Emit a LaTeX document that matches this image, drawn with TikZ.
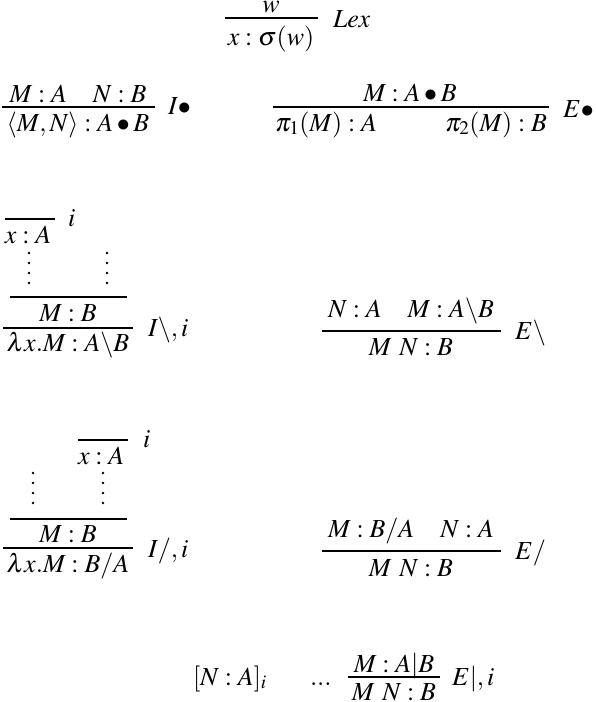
\documentclass[tikz,border=0pt]{standalone}
\usepackage{mathptmx}
\tikzset{
  f/.style={inner sep=0pt, outer sep=0pt, font=\fontsize{26}{30}\selectfont},
  rl/.style={line width=1.5pt},
  rlb/.style={line width=2.5pt},
  dt/.style={fill=black, circle, inner sep=0pt, minimum size=2.8pt}
}
\begin{document}
\begin{tikzpicture}[x=1pt,y=-1pt]
\useasboundingbox (0,0) rectangle (596,702);
% Lex
\node[f,anchor=base] (lexp) at (271,12) {$w$};
\coordinate (lexa) at (225,18); \coordinate (lexb) at (318,18);
\draw[rl] (lexa) -- (lexb);
\node[f,anchor=base] (lexc) at (271,45) {$x:\sigma(w)$};
\node[f,anchor=base west] (lexl) at (333,27) {$\mathit{Lex}$};
% I bullet
\node[f,anchor=base] (ip) at (78,102) {$M:A\quad N:B$};
\coordinate (ia) at (2,107); \coordinate (ib) at (155,107);
\draw[rl] (ia) -- (ib);
\node[f,anchor=base] (ic) at (78,131) {$\langle M,N\rangle:A\bullet B$};
\node[f,anchor=base west] (il) at (168,114) {$I\bullet$};
% E bullet
\node[f,anchor=base] (ep) at (410,101) {$M:A\bullet B$};
\coordinate (ea) at (273,107); \coordinate (eb) at (549,107);
\draw[rl] (ea) -- (eb);
\node[f,anchor=base west] (ec1) at (275,131) {$\pi_1(M):A$};
\node[f,anchor=base east] (ec2) at (547,131) {$\pi_2(M):B$};
\node[f,anchor=base west] (el) at (563,117) {$E\bullet$};
% I backslash
\coordinate (ha1) at (5,219); \coordinate (hb1) at (55,219);
\draw[rl] (ha1) -- (hb1);
\node[f,anchor=base west] (hx1) at (5,243) {$x:A$};
\node[f,anchor=base west] (hi1) at (68,226) {$i$};
\foreach \y [count=\k] in {253,263,273,283} {
  \node[dt] (da\k) at (29,\y) {};
  \node[dt] (db\k) at (107,\y) {};
}
\coordinate (ma1) at (10,297); \coordinate (mb1) at (127,297);
\draw[rl] (ma1) -- (mb1);
\node[f,anchor=base] (mp1) at (68,321) {$M:B$};
\coordinate (la1) at (3,328); \coordinate (lb1) at (133,328);
\draw[rl] (la1) -- (lb1);
\node[f,anchor=base] (lc1) at (68,351) {$\lambda x.M:A\backslash B$};
\node[f,anchor=base west] (ll1) at (148,336) {$I\backslash,i$};
% E backslash
\node[f,anchor=base] (bp) at (411,317) {$N:A\quad M:A\backslash B$};
\coordinate (ba) at (322,331); \coordinate (bb) at (501,331);
\draw[rl] (ba) -- (bb);
\node[f,anchor=base] (bc) at (411,355) {$M\ N:B$};
\node[f,anchor=base west] (bl) at (515,339) {$E\backslash$};
% I slash
\coordinate (ha2) at (78,440); \coordinate (hb2) at (128,440);
\draw[rl] (ha2) -- (hb2);
\node[f,anchor=base west] (hx2) at (78,464) {$x:A$};
\node[f,anchor=base west] (hi2) at (143,447) {$i$};
\foreach \y [count=\k] in {473,483,493,503} {
  \node[dt] (dc\k) at (33,\y) {};
  \node[dt] (dd\k) at (103,\y) {};
}
\coordinate (ma2) at (10,519); \coordinate (mb2) at (127,519);
\draw[rl] (ma2) -- (mb2);
\node[f,anchor=base] (mp2) at (68,542) {$M:B$};
\coordinate (la2) at (3,548); \coordinate (lb2) at (133,548);
\draw[rl] (la2) -- (lb2);
\node[f,anchor=base] (lc2) at (68,572) {$\lambda x.M:B/A$};
\node[f,anchor=base west] (ll2) at (148,557) {$I/,i$};
% E slash
\node[f,anchor=base] (sp) at (411,537) {$M:B/A\quad N:A$};
\coordinate (sa) at (322,551); \coordinate (sb) at (501,551);
\draw[rl] (sa) -- (sb);
\node[f,anchor=base] (sc) at (411,576) {$M\ N:B$};
\node[f,anchor=base west] (sl) at (515,559) {$E/$};
% E bar
\node[f,anchor=base west] (na) at (193,685) {$[N:A]_i$};
\node[f,anchor=base west] (nd) at (310,685) {$...$};
\node[f,anchor=base] (vp) at (394,672) {$M:A|B$};
\coordinate (va) at (348,677); \coordinate (vb) at (440,677);
\draw[rlb] (va) -- (vb);
\node[f,anchor=base] (vc) at (394,700) {$M\ N:B$};
\node[f,anchor=base west] (vl) at (452,685) {$E|,i$};
\end{tikzpicture}
\end{document}
